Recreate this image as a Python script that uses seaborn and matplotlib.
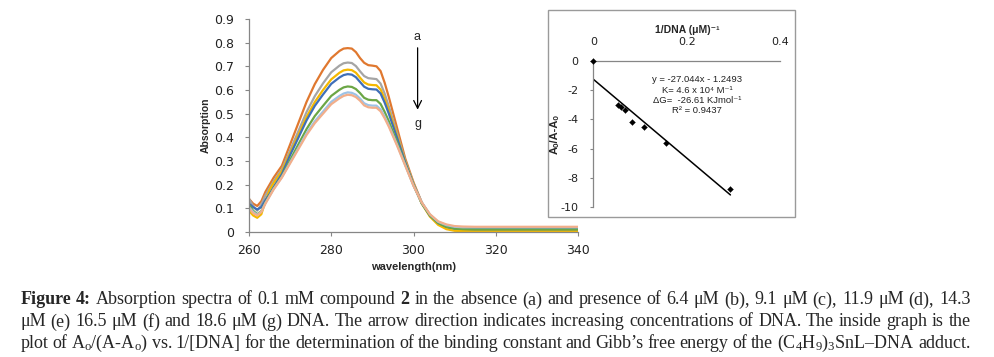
import numpy as np
import pandas as pd
import matplotlib
matplotlib.use('Agg')
import matplotlib.pyplot as plt
import seaborn as sns
from matplotlib.patches import Rectangle
from matplotlib.ticker import FuncFormatter

sns.set_style('white')
plt.rcParams['font.family'] = ['DejaVu Sans']
plt.rcParams['axes.unicode_minus'] = False
plt.rcParams['mathtext.fontset'] = 'custom'
plt.rcParams['mathtext.rm'] = 'Liberation Serif'
plt.rcParams['mathtext.it'] = 'Liberation Serif:italic'
plt.rcParams['mathtext.bf'] = 'Liberation Serif:bold'

# ---- absorption spectra (a = no DNA ... g = 18.6 uM DNA) ----
wavelength = [260, 261, 262, 263, 264, 265, 266, 268, 270, 272, 274, 276, 278, 280,
              282, 283, 284, 285, 286, 287, 288, 289, 290, 291, 292, 293, 294, 296,
              298, 300, 302, 304, 306, 308, 310, 312, 315, 320, 330, 340]
abs_a = [0.140, 0.120, 0.110, 0.130, 0.170, 0.200, 0.230, 0.280, 0.370, 0.460, 0.550, 0.625, 0.685, 0.735,
         0.765, 0.775, 0.777, 0.775, 0.760, 0.735, 0.715, 0.705, 0.703, 0.700, 0.680, 0.630, 0.570, 0.440,
         0.310, 0.210, 0.125, 0.068, 0.035, 0.020, 0.015, 0.015, 0.015, 0.016, 0.016, 0.016]
abs_b = [0.140, 0.110, 0.090, 0.116, 0.155, 0.185, 0.215, 0.265, 0.345, 0.426, 0.507, 0.574, 0.628, 0.675,
         0.703, 0.713, 0.716, 0.714, 0.701, 0.679, 0.659, 0.650, 0.648, 0.646, 0.627, 0.584, 0.531, 0.417,
         0.301, 0.205, 0.125, 0.072, 0.040, 0.026, 0.020, 0.018, 0.018, 0.018, 0.018, 0.018]
abs_c = [0.090, 0.070, 0.060, 0.075, 0.130, 0.177, 0.207, 0.257, 0.333, 0.409, 0.486, 0.549, 0.600, 0.645,
         0.673, 0.683, 0.686, 0.684, 0.673, 0.652, 0.632, 0.623, 0.621, 0.620, 0.602, 0.561, 0.513, 0.406,
         0.296, 0.203, 0.120, 0.065, 0.030, 0.012, 0.005, 0.004, 0.004, 0.004, 0.004, 0.004]
abs_d = [0.120, 0.105, 0.095, 0.105, 0.135, 0.160, 0.190, 0.245, 0.325, 0.398, 0.472, 0.533, 0.581, 0.626,
         0.653, 0.663, 0.667, 0.665, 0.654, 0.634, 0.614, 0.605, 0.603, 0.602, 0.585, 0.546, 0.500, 0.398,
         0.293, 0.200, 0.122, 0.070, 0.038, 0.022, 0.015, 0.013, 0.012, 0.012, 0.012, 0.012]
abs_e = [0.115, 0.090, 0.075, 0.088, 0.125, 0.155, 0.185, 0.235, 0.304, 0.370, 0.435, 0.490, 0.533, 0.575,
         0.601, 0.611, 0.615, 0.613, 0.604, 0.587, 0.567, 0.559, 0.557, 0.557, 0.541, 0.507, 0.468, 0.379,
         0.285, 0.197, 0.122, 0.070, 0.038, 0.022, 0.014, 0.012, 0.011, 0.011, 0.011, 0.011]
abs_f = [0.105, 0.085, 0.072, 0.086, 0.122, 0.152, 0.182, 0.232, 0.294, 0.355, 0.417, 0.468, 0.509, 0.550,
         0.575, 0.585, 0.590, 0.588, 0.580, 0.564, 0.544, 0.536, 0.534, 0.534, 0.518, 0.487, 0.451, 0.369,
         0.282, 0.196, 0.125, 0.074, 0.043, 0.029, 0.022, 0.020, 0.020, 0.020, 0.020, 0.020]
abs_g = [0.100, 0.080, 0.070, 0.085, 0.120, 0.150, 0.180, 0.230, 0.290, 0.350, 0.410, 0.460, 0.500, 0.540,
         0.565, 0.575, 0.580, 0.578, 0.570, 0.555, 0.535, 0.527, 0.525, 0.525, 0.510, 0.480, 0.445, 0.365,
         0.280, 0.195, 0.125, 0.075, 0.045, 0.032, 0.025, 0.023, 0.022, 0.022, 0.022, 0.022]
series_names = ['a', 'b', 'c', 'd', 'e', 'f', 'g']
series_colors = ['#E0782F', '#A5A5A5', '#F5B800', '#3F6FB8', '#6BA645', '#9DC3E6', '#F2AE8A']

# ---- inset: Ao/(A-Ao) vs 1/[DNA] ----
inv_dna = [0.0, 0.052, 0.059, 0.068, 0.083, 0.109, 0.155, 0.292]
ratio = [0.0, -3.0, -3.13, -3.38, -4.16, -4.5, -5.64, -8.77]
fit_slope, fit_intercept = -27.044, -1.2493
fit_x = [0.0, 0.293]

W, H = 995, 357
fig = plt.figure(figsize=(W / 100, H / 100), dpi=100)


def fx(px):
    return px / W


def fy(py):
    return 1 - py / H


# main spectra axes
ax = fig.add_axes([fx(249), fy(232), fx(578) - fx(249), fy(19) - fy(232)])
spec = pd.concat([pd.DataFrame({'wavelength': wavelength, 'absorption': vals, 'curve': name})
                  for name, vals in zip(series_names,
                                        [abs_a, abs_b, abs_c, abs_d, abs_e, abs_f, abs_g])])
sns.lineplot(data=spec.iloc[::-1], x='wavelength', y='absorption', hue='curve',
             hue_order=series_names, palette=series_colors, linewidth=1.6,
             legend=False, ax=ax, sort=False)
ax.set_xlim(260, 340)
ax.set_ylim(0, 0.9)
ax.set_xticks([260, 280, 300, 320, 340])
ax.set_yticks(np.arange(0, 0.91, 0.1))
ax.yaxis.set_major_formatter(FuncFormatter(lambda v, p: f'{v:.1f}' if v > 0.001 else '0'))
for s in ['top', 'right']:
    ax.spines[s].set_visible(False)
for s in ['left', 'bottom']:
    ax.spines[s].set_color('#868686')
    ax.spines[s].set_linewidth(0.9)
ax.tick_params(axis='both', direction='out', length=3, width=0.8, color='#868686',
               labelsize=9, labelcolor='#222222', left=True, bottom=True)
ax.tick_params(axis='y', pad=8)
ax.tick_params(axis='x', pad=6)
ax.set_xlabel('wavelength(nm)', fontsize=8, fontweight='bold', family='Liberation Sans', labelpad=3)
ax.set_ylabel('Absorption', fontsize=7.5, fontweight='bold', family='Liberation Sans', labelpad=2)

# arrow a -> g
ax.annotate('', xy=(301, 0.505), xytext=(301, 0.79),
            arrowprops=dict(arrowstyle='->', color='black', lw=0.9, mutation_scale=14))
ax.text(300.8, 0.825, 'a', ha='center', va='center', fontsize=9, family='Liberation Sans')
ax.text(301.2, 0.455, 'g', ha='center', va='center', fontsize=9, family='Liberation Sans')

# inset frame
fig.patches.append(Rectangle((fx(548), fy(217)), fx(795) - fx(548), fy(10) - fy(217),
                             transform=fig.transFigure, facecolor='white',
                             edgecolor='#9A9A9A', linewidth=1.0, zorder=5))

axi = fig.add_axes([fx(593.3), fy(207), fx(780.5) - fx(593.3), fy(61) - fy(207)], zorder=6)
axi.patch.set_alpha(0)
sns.scatterplot(x=inv_dna, y=ratio, marker='D', s=9, color='black', edgecolor='black',
                ax=axi, clip_on=False, zorder=4)
fit_y = [fit_slope * v + fit_intercept for v in fit_x]
sns.lineplot(x=fit_x, y=fit_y, color='black', linewidth=1.1, ax=axi)
axi.set_xlim(0, 0.4)
axi.set_ylim(-10, 0)
axi.set_xticks([0, 0.2, 0.4])
axi.set_yticks([0, -2, -4, -6, -8, -10])
axi.xaxis.set_major_formatter(FuncFormatter(lambda v, p: f'{v:g}'))
axi.yaxis.set_major_formatter(FuncFormatter(lambda v, p: f'{v:g}'))
axi.xaxis.tick_top()
axi.xaxis.set_label_position('top')
for s in ['bottom', 'right']:
    axi.spines[s].set_visible(False)
for s in ['top', 'left']:
    axi.spines[s].set_color('#868686')
    axi.spines[s].set_linewidth(0.9)
axi.tick_params(axis='x', top=True, length=0, pad=10, labelsize=8, labelcolor='#222222')
axi.tick_params(axis='y', left=True, length=2.5, width=0.8, color='#868686', pad=8,
                labelsize=8, labelcolor='#222222')
axi.set_xlabel('1/DNA (μM)⁻¹', fontsize=7.5, fontweight='bold',
               family=['Liberation Sans', 'DejaVu Sans'], labelpad=3)
axi.set_ylabel('Aₒ/A-Aₒ', fontsize=8, fontweight='bold',
               family=['Liberation Sans', 'DejaVu Sans'], labelpad=1)
annot = ['y = -27.044x - 1.2493', 'K= 4.6 x 10⁴ M⁻¹', 'ΔG=  -26.61 KJmol⁻¹', 'R² = 0.9437']
for i, line in enumerate(annot):
    fig.text(fx(697), fy(80 + 10.3 * i), line, ha='center', va='center', fontsize=6.8,
             family=['Liberation Sans', 'DejaVu Sans'], color='#222222', zorder=7)

# ---- justified caption ----
B = 'bold'
cap_lines = [
    [('Figure', B), ('4:', B), 'Absorption', 'spectra', 'of', '0.1', 'mM', 'compound', ('2', B), 'in',
     'the', 'absence', '(a)', 'and', 'presence', 'of', '6.4', 'μM', '(b),', '9.1', 'μM', '(c),', '11.9',
     'μM', '(d),', '14.3'],
    'μM (e) 16.5 μM (f) and 18.6 μM (g) DNA. The arrow direction indicates increasing concentrations '
    'of DNA. The inside graph is the'.split(),
    ['plot', 'of', r'A$_\mathrm{o}$/(A-A$_\mathrm{o}$)', 'vs.', '1/[DNA]', 'for', 'the', 'determination',
     'of', 'the', 'binding', 'constant', 'and', 'Gibb’s', 'free', 'energy', 'of', 'the',
     r'(C$_4$H$_9$)$_3$SnL–DNA', 'adduct.'],
]
cap_base = [304.5, 326.5, 348]
cap_x0, cap_x1 = 20.5, 970.5
renderer = fig.canvas.get_renderer()
for words, base in zip(cap_lines, cap_base):
    items = [(w, 'normal') if isinstance(w, str) else w for w in words]
    texts = []
    for w, wt in items:
        t = fig.text(0, fy(base), w, fontsize=13, fontweight=wt, family='Liberation Serif',
                     va='baseline', ha='left')
        texts.append(t)
    widths = [t.get_window_extent(renderer).width for t in texts]
    gap = (cap_x1 - cap_x0 - sum(widths)) / (len(texts) - 1)
    x = cap_x0
    for t, wd in zip(texts, widths):
        t.set_x(fx(x))
        x += wd + gap

fig.savefig('out.png', dpi=100)
